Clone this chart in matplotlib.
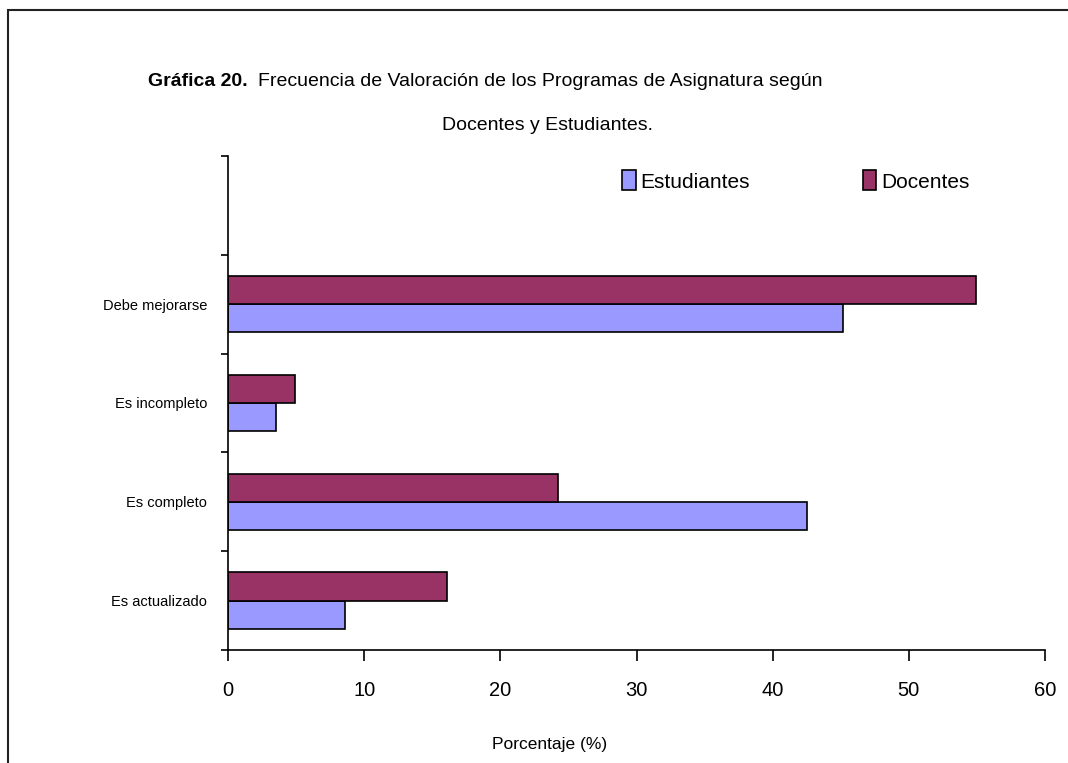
import numpy as np
import matplotlib
matplotlib.use("Agg")
import matplotlib.pyplot as plt
from matplotlib.patches import Rectangle

# data, bottom to top as drawn
categories = ["Es actualizado", "Es completo", "Es incompleto", "Debe mejorarse"]
estudiantes = [8.6, 42.5, 3.5, 45.2]
docentes = [16.1, 24.2, 4.9, 54.9]
xticks = [0, 10, 20, 30, 40, 50, 60]

plt.rcParams['font.family'] = ['Liberation Sans', 'DejaVu Sans']

W, H = 1068, 763
fig = plt.figure(figsize=(W / 100, H / 100), dpi=100)
ax = fig.add_axes([228 / W, 1 - 650 / H, (1045 - 228) / W, (650 - 156) / H])

y = np.arange(len(categories)) + 0.5
h = 0.286
ax.barh(y - h / 2, estudiantes, height=h, color='#9999FF', edgecolor='black',
        linewidth=1.2, label='Estudiantes')
ax.barh(y + h / 2, docentes, height=h, color='#993366', edgecolor='black',
        linewidth=1.2, label='Docentes')

ax.set_xlim(0, 60)
ax.set_ylim(0, 5)
ax.set_xticks(xticks)
ax.set_xticklabels([str(t) for t in xticks], fontsize=14.5)
ax.tick_params(axis='x', direction='out', length=8, width=1.2, pad=14)

ax.set_yticks(range(6))
ax.set_yticklabels([])
ax.tick_params(axis='y', which='major', direction='out', length=5, width=1.2)
ax.set_yticks(y, minor=True)
ax.set_yticklabels(categories, minor=True, fontsize=10.5)
ax.tick_params(axis='y', which='minor', length=0, pad=15)

for s in ['top', 'right']:
    ax.spines[s].set_visible(False)
for s in ['left', 'bottom']:
    ax.spines[s].set_linewidth(1.2)

ax.legend(loc='center left', bbox_to_anchor=(622 / W, 1 - 181 / H),
          bbox_transform=fig.transFigure, ncol=2, frameon=False, fontsize=15,
          handlelength=0.65, handleheight=1.1, handletextpad=0.25,
          columnspacing=5.4, borderaxespad=0, borderpad=0)

# title, bold prefix plus normal text
fig.text(148 / W, 1 - 82 / H, "Gráfica 20.", fontsize=14, fontweight='bold',
         ha='left', va='center')
fig.text(258 / W, 1 - 82 / H,
         "Frecuencia de Valoración de los Programas de Asignatura según",
         fontsize=14, ha='left', va='center')
fig.text(548 / W, 1 - 126 / H, "Docentes y Estudiantes.", fontsize=14,
         ha='center', va='center')

fig.text(550 / W, 1 - 745 / H, "Porcentaje (%)", fontsize=12.5,
         ha='center', va='center')

# outer frame (right and bottom sides fall outside the image)
fig.patches.append(Rectangle((8 / W, -0.1), 1.2, 1 - 10 / H + 0.1,
                             transform=fig.transFigure, fill=False,
                             edgecolor='#222222', linewidth=1.5))

fig.savefig("out.png", dpi=100)
